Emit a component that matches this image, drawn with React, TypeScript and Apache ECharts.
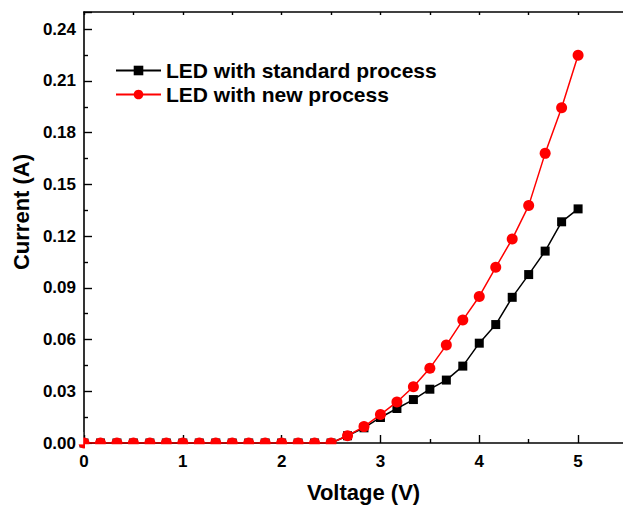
import React, { useEffect, useRef } from "react";
import * as echarts from "echarts";

const voltage: number[] = [
  0, 0.1667, 0.3333, 0.5, 0.6667, 0.8333, 1, 1.1667, 1.3333, 1.5, 1.6667, 1.8333,
  2, 2.1667, 2.3333, 2.5, 2.6667, 2.8333, 3, 3.1667, 3.3333, 3.5, 3.6667, 3.8333,
  4, 4.1667, 4.3333, 4.5, 4.6667, 4.8333, 5,
];
const standardCurrent: number[] = [
  0, 0, 0, 0, 0, 0, 0, 0, 0, 0, 0, 0, 0, 0, 0, 0,
  0.0042, 0.0088, 0.0148, 0.02, 0.0252, 0.0312, 0.0365, 0.0446, 0.0579, 0.0687,
  0.0845, 0.0977, 0.1113, 0.1283, 0.1358,
];
const newCurrent: number[] = [
  0, 0, 0, 0, 0, 0, 0, 0, 0, 0, 0, 0, 0, 0, 0, 0,
  0.0042, 0.0095, 0.0165, 0.0238, 0.0326, 0.0434, 0.0568, 0.0713, 0.085, 0.1019,
  0.1183, 0.1377, 0.168, 0.1945, 0.2249,
];
const seriesNames: string[] = ["LED with standard process", "LED with new process"];
const xTitle = "Voltage (V)";
const yTitle = "Current (A)";

const FONT = "'Liberation Sans', Arial, sans-serif";

export default function App() {
  const ref = useRef<HTMLDivElement>(null);
  useEffect(() => {
    if (!ref.current) return;
    const chart = echarts.init(ref.current, undefined, { renderer: "svg" });
    const axisLine = { show: true, lineStyle: { color: "#000", width: 1.6 } };
    chart.setOption({
      animation: false,
      backgroundColor: "#fff",
      grid: { left: 84, right: 12.5, top: 12, bottom: 63, containLabel: false },
      legend: {
        orient: "vertical",
        left: 115,
        top: 60,
        padding: 0,
        itemWidth: 45,
        itemHeight: 12,
        itemGap: 3,
        textStyle: { fontFamily: FONT, fontWeight: "bold", fontSize: 21, color: "#000" },
        data: seriesNames,
      },
      xAxis: [
        {
          type: "value",
          min: 0,
          max: 5.5,
          interval: 1,
          position: "bottom",
          axisLine,
          axisTick: { show: true, inside: true, length: 8, lineStyle: { color: "#000", width: 1.4 } },
          minorTick: { show: true, splitNumber: 2, length: 4, lineStyle: { color: "#000", width: 1.4 } },
          splitLine: { show: false },
          axisLabel: {
            showMaxLabel: false,
            margin: 10,
            fontFamily: FONT,
            fontWeight: "bold",
            fontSize: 17,
            color: "#000",
            formatter: (v: number) => String(v),
          },
        },
        {
          type: "value",
          min: 0,
          max: 5.5,
          interval: 0.5,
          position: "top",
          axisLine,
          axisTick: { show: true, inside: true, length: 3, lineStyle: { color: "#000", width: 1.4 } },
          splitLine: { show: false },
          axisLabel: { show: false },
        },
      ],
      yAxis: {
        type: "value",
        min: 0,
        max: 0.25,
        interval: 0.03,
        axisLine,
        axisTick: { show: true, inside: true, length: 8, lineStyle: { color: "#000", width: 1.4 } },
        minorTick: { show: true, splitNumber: 2, length: 4, lineStyle: { color: "#000", width: 1.4 } },
        splitLine: { show: false },
        axisLabel: {
          showMaxLabel: false,
          margin: 8,
          fontFamily: FONT,
          fontWeight: "bold",
          fontSize: 17,
          color: "#000",
          formatter: (v: number) => v.toFixed(2),
        },
      },
      series: [
        {
          name: seriesNames[0],
          type: "line",
          xAxisIndex: 0,
          data: voltage.map((x, i) => [x, standardCurrent[i]]),
          symbol: "rect",
          symbolSize: 9,
          color: "#000",
          lineStyle: { color: "#000", width: 1.5 },
          itemStyle: { color: "#000" },
          clip: true,
          z: 2,
        },
        {
          name: seriesNames[1],
          type: "line",
          xAxisIndex: 0,
          data: voltage.map((x, i) => [x, newCurrent[i]]),
          symbol: "circle",
          symbolSize: 11,
          color: "#ff0000",
          lineStyle: { color: "#ff0000", width: 1.5 },
          itemStyle: { color: "#ff0000" },
          clip: true,
          z: 3,
        },
      ],
      graphic: [
        {
          type: "rect",
          z: 100,
          shape: { x: 85, y: 444.2, width: 560, height: 8 },
          style: { fill: "#fff" },
          silent: true,
        },
        {
          type: "rect",
          z: 100,
          shape: { x: 77, y: 432, width: 6.2, height: 12.4 },
          style: { fill: "#fff" },
          silent: true,
        },
        {
          type: "text",
          z: 100,
          x: 363.5,
          y: 492,
          style: {
            text: xTitle,
            fontFamily: FONT,
            fontWeight: "bold",
            fontSize: 22,
            fill: "#000",
            textAlign: "center",
            textVerticalAlign: "middle",
          },
        },
        {
          type: "text",
          z: 100,
          x: 21,
          y: 212,
          rotation: Math.PI / 2,
          style: {
            text: yTitle,
            fontFamily: FONT,
            fontWeight: "bold",
            fontSize: 22,
            fill: "#000",
            textAlign: "center",
            textVerticalAlign: "middle",
          },
        },
      ],
    });
    return () => chart.dispose();
  }, []);
  return (
    <div
      style={{
        position: "absolute",
        left: 0,
        top: 0,
        width: 623,
        height: 506,
        overflow: "hidden",
      }}
    >
      <div ref={ref} style={{ width: 640, height: 506 }} />
    </div>
  );
}
